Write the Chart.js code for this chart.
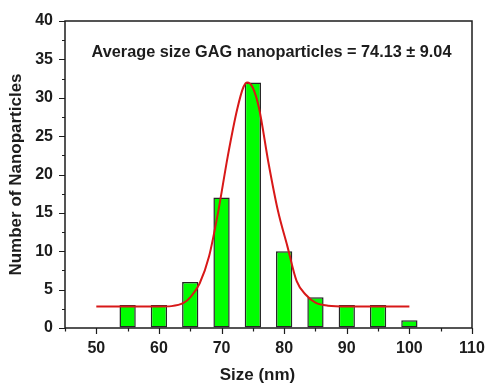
<!DOCTYPE html>
<html><head><meta charset="utf-8">
<script src="https://cdn.jsdelivr.net/npm/chart.js@4.4.0/dist/chart.umd.min.js"></script>
<style>html,body{margin:0;padding:0;background:#fff}#wrap{width:485px;height:384px}</style>
</head><body><div id="wrap"><canvas id="c" width="485" height="384"></canvas></div>
<script>
const binCenters = [55, 60, 65, 70, 75, 80, 85, 90, 95, 100];
const counts = [3, 3, 6, 17, 32, 10, 4, 3, 3, 1];
const fitX = [50, 55, 60, 62, 64, 65, 66.5, 68, 69.5, 71, 72.5, 73.5, 74.1, 75, 76, 77.5, 79, 80.5, 82, 83.5, 85, 87, 90, 95, 100];
const fitY = [2.8, 2.8, 2.8, 2.85, 3.3, 4.0, 5.8, 9.3, 15.3, 22.4, 28.5, 31.4, 32.0, 31.3, 28.6, 21.5, 15.3, 10.7, 6.1, 4.3, 3.3, 2.9, 2.8, 2.8, 2.8];
const xMin = 45, xMax = 110, yMin = 0, yMax = 40;
const xTickValues = [50, 60, 70, 80, 90, 100, 110];
const yTickValues = [0, 5, 10, 15, 20, 25, 30, 35, 40];
const xAxisTitle = 'Size (nm)';
const yAxisTitle = 'Number of Nanoparticles';
const annotationText = 'Average size GAG nanoparticles = 74.13 \u00B1 9.04';

const FONT = '"Liberation Sans", Arial, Helvetica, sans-serif';
const INK = '#1c1c1c';

const decor = {
  id: 'decor',
  afterDraw(chart) {
    const ctx = chart.ctx, a = chart.chartArea;
    const xs = chart.scales.x, ys = chart.scales.y;
    ctx.save();
    ctx.strokeStyle = INK;
    ctx.lineWidth = 1.5;
    ctx.strokeRect(a.left, a.top, a.right - a.left, a.bottom - a.top);
    ctx.lineWidth = 1.2;
    ctx.beginPath();
    for (let v = xMin; v <= xMax + 0.01; v += 5) {
      const px = Math.round(xs.getPixelForValue(v)) + 0.5;
      const len = xTickValues.includes(v) ? 6 : 3.5;
      ctx.moveTo(px, a.bottom); ctx.lineTo(px, a.bottom + len);
    }
    for (let v = yMin; v <= yMax + 0.01; v += 2.5) {
      const py = Math.round(ys.getPixelForValue(v)) + 0.5;
      const len = yTickValues.includes(v) ? 6 : 3;
      ctx.moveTo(a.left, py); ctx.lineTo(a.left - len, py);
    }
    ctx.stroke();
    ctx.fillStyle = INK;
    ctx.textAlign = 'center';
    ctx.textBaseline = 'middle';
    ctx.font = 'bold 16.3px ' + FONT;
    ctx.fillText(annotationText, (a.left + a.right) / 2 + 3, a.top + 32);
    ctx.font = 'bold 17px ' + FONT;
    ctx.fillText(xAxisTitle, (a.left + a.right) / 2 - 11, 375);
    ctx.translate(16, (a.top + a.bottom) / 2);
    ctx.rotate(-Math.PI / 2);
    ctx.fillText(yAxisTitle, 0, 0);
    ctx.restore();
  }
};

new Chart(document.getElementById('c'), {
  type: 'bar',
  data: {
    datasets: [
      {
        type: 'line',
        data: fitX.map((x, i) => ({ x: x, y: fitY[i] })),
        borderColor: '#d81818',
        borderWidth: 2,
        pointRadius: 0,
        fill: false,
        cubicInterpolationMode: 'monotone',
        order: 0
      },
      {
        type: 'bar',
        data: binCenters.map((x, i) => ({ x: x, y: counts[i] })),
        backgroundColor: '#00ff00',
        borderColor: '#262626',
        borderWidth: 1.5,
        borderSkipped: false,
        barPercentage: 0.52,
        categoryPercentage: 1,
        order: 1
      }
    ]
  },
  options: {
    responsive: false,
    animation: false,
    devicePixelRatio: 1,
    layout: { padding: { left: 0, right: 13, top: 21, bottom: 0 } },
    plugins: { legend: { display: false }, tooltip: { enabled: false } },
    scales: {
      x: {
        type: 'linear', min: xMin, max: xMax, offset: false,
        grid: { display: true, drawOnChartArea: false, drawTicks: true, tickLength: 5, color: 'rgba(0,0,0,0)', offset: false },
        border: { display: false },
        ticks: {
          stepSize: 5, autoSkip: false, maxRotation: 0, padding: 6,
          color: INK, font: { family: FONT, size: 16, weight: 'bold' },
          callback: v => xTickValues.includes(v) ? String(v) : ''
        },
        afterFit: s => { s.height = 56; s.paddingLeft = 0; s.paddingRight = 0; }
      },
      y: {
        type: 'linear', min: yMin, max: yMax,
        grid: { display: true, drawOnChartArea: false, drawTicks: true, tickLength: 5, color: 'rgba(0,0,0,0)' },
        border: { display: false },
        ticks: {
          stepSize: 2.5, autoSkip: false, padding: 7,
          color: INK, font: { family: FONT, size: 16, weight: 'bold' },
          callback: v => yTickValues.includes(v) ? String(v) : ''
        },
        afterFit: s => { s.width = 65; s.paddingTop = 0; s.paddingBottom = 0; }
      }
    }
  },
  plugins: [decor]
});
</script>
</body></html>
